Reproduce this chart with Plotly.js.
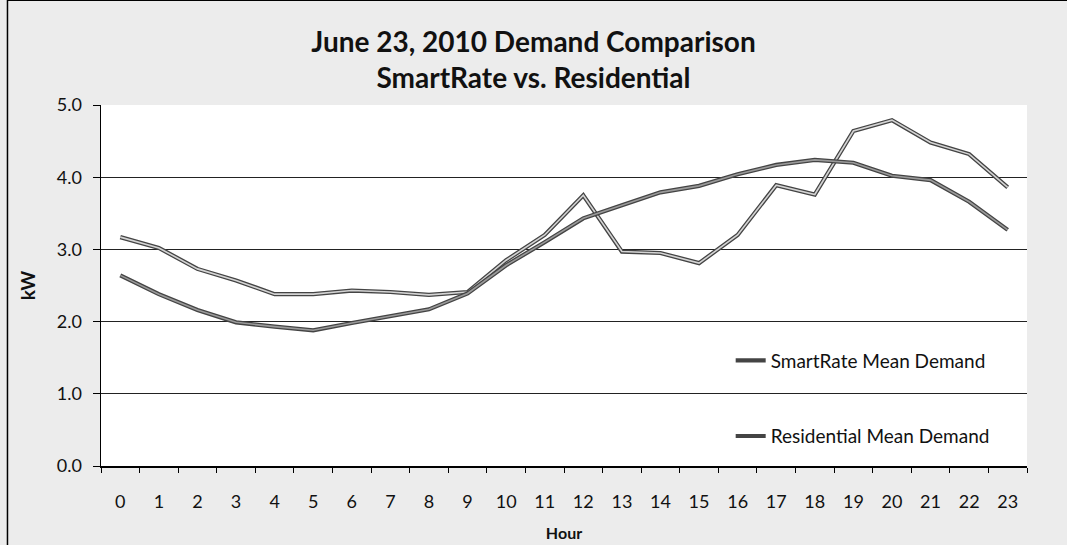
<!DOCTYPE html>
<html>
<head>
<meta charset="utf-8">
<script src="https://cdn.plot.ly/plotly-3.0.1.min.js"></script>
<style>
  html, body { margin: 0; padding: 0; background: #ececec; }
  #chart { width: 1067px; height: 545px; }
</style>
</head>
<body>
<div id="chart"></div>
<script>
// hourly mean demand, kW
const HOURS       = [ '0', '1', '2', '3', '4', '5', '6', '7', '8', '9', '10', '11',
                      '12', '13', '14', '15', '16', '17', '18', '19', '20', '21', '22', '23' ];
const SMARTRATE   = [ 3.17, 3.02, 2.73, 2.57, 2.38, 2.38, 2.43, 2.41, 2.37, 2.41, 2.85, 3.20,
                      3.75, 2.97, 2.95, 2.81, 3.20, 3.89, 3.76, 4.64, 4.79, 4.48, 4.32, 3.86 ];
const RESIDENTIAL = [ 2.64, 2.38, 2.16, 1.99, 1.93, 1.88, 1.98, 2.07, 2.17, 2.39, 2.78, 3.10,
                      3.43, 3.61, 3.79, 3.88, 4.04, 4.17, 4.24, 4.20, 4.02, 3.96, 3.66, 3.27 ];
const NAMES       = [ 'SmartRate Mean Demand', 'Residential Mean Demand' ];

const FONT = 'Lato, "Open Sans", sans-serif';

// the scan draws each series as a dark outlined line with a paler core
function make_series( y, name, core_color, group ) {
	const outline = {
		x: HOURS, y: y, type: 'scatter', mode: 'lines',
		line: { color: '#444444', width: 4.2 },
		name: name, legendgroup: group, showlegend: true
	};
	const core = {
		x: HOURS, y: y, type: 'scatter', mode: 'lines',
		line: { color: core_color, width: 1.6 },
		name: name, legendgroup: group, showlegend: false
	};
	return [ outline, core ];
}

const traces = [
	...make_series( SMARTRATE,   NAMES[ 0 ], '#d4d4d4', 'sr' ),
	...make_series( RESIDENTIAL, NAMES[ 1 ], '#9a9a9a', 'res' )
];

const layout = {
	width        : 1067,
	height       : 545,
	paper_bgcolor: '#ececec',
	plot_bgcolor : '#ffffff',
	margin       : { l: 101, r: 40, t: 105, b: 79 },
	font         : { family: FONT, color: '#111', size: 15 },
	title        : {
		text: 'June 23, 2010 Demand Comparison<br>SmartRate vs. Residential',
		font: { family: FONT, size: 28, color: '#111', weight: 'bold' },
		x: 0.5, xanchor: 'center', y: 0.905, yanchor: 'top'
	},
	showlegend: true,
	legend    : {
		x: 0.68, y: 0.345, xanchor: 'left', yanchor: 'top',
		bgcolor: 'rgba(0,0,0,0)', traceorder: 'grouped', tracegroupgap: 48,
		font: { family: FONT, size: 19, color: '#111' }
	},
	xaxis: {
		type: 'category', range: [ -0.5, 23.5 ],
		tickson: 'boundaries', ticks: 'outside', ticklen: 5, tickcolor: '#000',
		showline: true, linecolor: '#000', linewidth: 1.5,
		showgrid: false, zeroline: false, ticklabelstandoff: 19,
		tickfont: { family: FONT, size: 18 },
		title: { text: 'Hour', font: { family: FONT, size: 16, weight: 'bold' }, standoff: 16 }
	},
	yaxis: {
		range: [ 0, 5 ], dtick: 1, tickformat: '.1f',
		ticks: 'outside', ticklen: 7, tickcolor: '#000',
		showline: true, linecolor: '#000', linewidth: 1.5,
		showgrid: true, gridcolor: '#222', gridwidth: 1, zeroline: false,
		ticklabelstandoff: 7,
		tickfont: { family: FONT, size: 18 },
		title: { text: 'kW', font: { family: FONT, size: 19, weight: 'bold' }, standoff: 16 }
	},
	shapes: [ {
		type: 'rect', xref: 'paper', yref: 'paper',
		x0: -0.101, x1: 1.1, y0: -0.3, y1: 1.29,
		line: { color: '#000', width: 1.5 }, layer: 'below'
	} ]
};

Plotly.newPlot( 'chart', traces, layout, { displayModeBar: false, staticPlot: true } );
</script>
</body>
</html>
